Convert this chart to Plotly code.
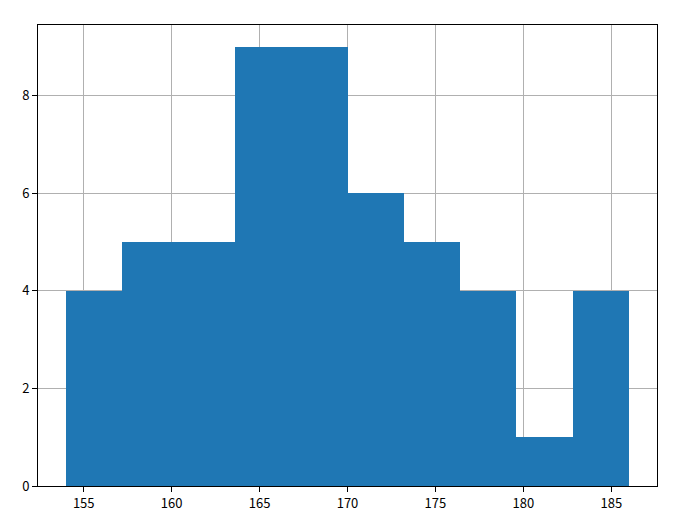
import plotly.graph_objects as go

# histogram of heights: 10 bins from 154 to 186
bin_edges = [154.0, 157.2, 160.4, 163.6, 166.8, 170.0, 173.2, 176.4, 179.6, 182.8, 186.0]
counts = [4, 5, 5, 9, 9, 6, 5, 4, 1, 4]
x_ticks = [155, 160, 165, 170, 175, 180, 185]
y_ticks = [0, 2, 4, 6, 8]

centers = [(a + b) / 2 for a, b in zip(bin_edges[:-1], bin_edges[1:])]
widths = [b - a for a, b in zip(bin_edges[:-1], bin_edges[1:])]

fig = go.Figure(
    go.Bar(
        x=centers,
        y=counts,
        width=widths,
        marker=dict(color="#1f77b4", line=dict(width=0)),
    )
)

span = bin_edges[-1] - bin_edges[0]
axis_style = dict(
    showline=True,
    linecolor="black",
    linewidth=1,
    mirror=True,
    ticks="outside",
    ticklen=5,
    tickcolor="black",
    showgrid=True,
    gridcolor="#b0b0b0",
    gridwidth=1,
    zeroline=False,
    layer="above traces",
    tickfont=dict(family="Noto Sans CJK SC", size=13, color="black"),
)

fig.update_xaxes(
    range=[bin_edges[0] - 0.05 * span, bin_edges[-1] + 0.05 * span],
    tickvals=x_ticks,
    **axis_style,
)
fig.update_yaxes(
    range=[0, max(counts) * 1.05],
    tickvals=y_ticks,
    **axis_style,
)

# the page puts the figure 8px in from the top-left corner
fig.update_layout(
    width=685,
    height=524,
    margin=dict(l=30, r=36, t=17, b=46),
    plot_bgcolor="white",
    paper_bgcolor="white",
    showlegend=False,
    bargap=0,
)

fig.write_html("out.html")
